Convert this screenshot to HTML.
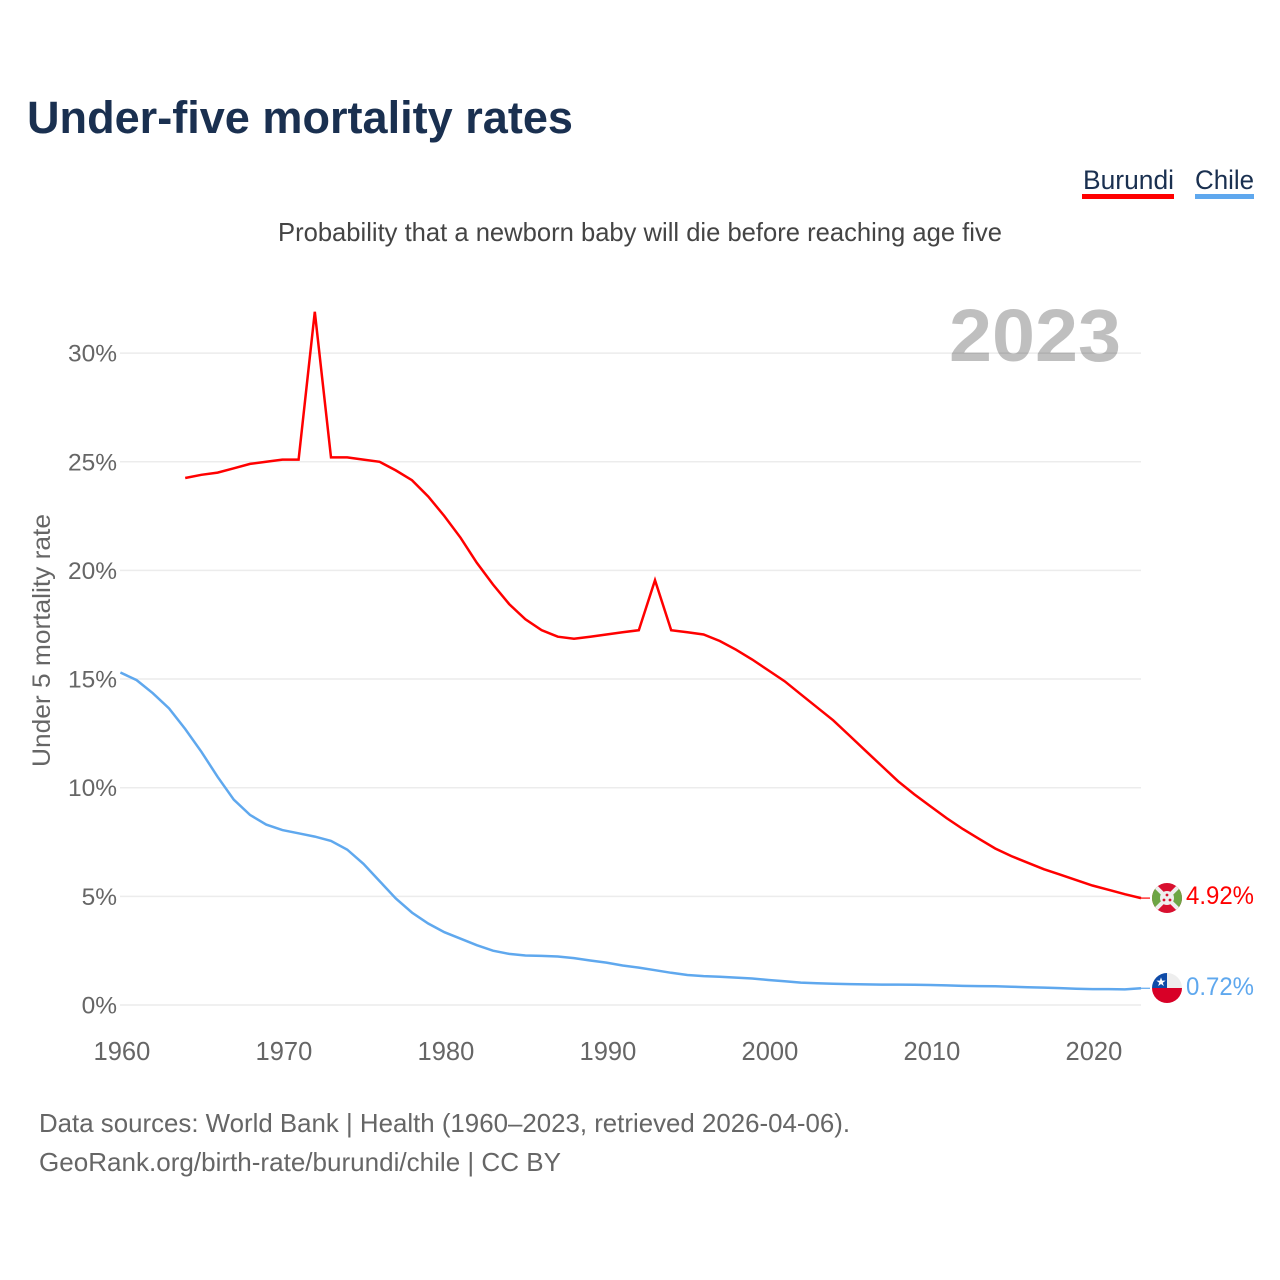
<!DOCTYPE html>
<html lang="en">
<head>
<meta charset="utf-8">
<title>Under-five mortality rates</title>
<style>
html,body{margin:0;padding:0;background:#fff;width:1280px;height:1280px;overflow:hidden}
svg{display:block}
text{font-family:"Liberation Sans",sans-serif}
</style>
</head>
<body>
<svg id="chart" xmlns="http://www.w3.org/2000/svg" width="1280" height="1280" viewBox="0 0 1280 1280">
  <defs>
    <clipPath id="flag-clip-a"><circle cx="1167" cy="898" r="15"/></clipPath>
    <clipPath id="flag-clip-b"><circle cx="1167" cy="988" r="15"/></clipPath>
  </defs>
  <text x="27" y="133" font-size="45" font-weight="700" fill="#1a3050" textLength="546" lengthAdjust="spacingAndGlyphs">Under-five mortality rates</text>
  <text x="278" y="241" font-size="26" fill="#444" textLength="724" lengthAdjust="spacingAndGlyphs">Probability that a newborn baby will die before reaching age five</text>

  <g>
    <g>
      <text x="1083" y="189" font-size="27" fill="#1a3050" textLength="91" lengthAdjust="spacingAndGlyphs">Burundi</text>
      <rect x="1082" y="194" width="92" height="5" fill="#ff0000"/>
    </g>
    <g>
      <text x="1195" y="189" font-size="27" fill="#1a3050" textLength="59" lengthAdjust="spacingAndGlyphs">Chile</text>
      <rect x="1195" y="194" width="59" height="5" fill="#5fa8ee"/>
    </g>
  </g>

  <g id="grid"></g>
  <text x="949" y="361" font-size="74" font-weight="700" fill="#000" fill-opacity="0.25" textLength="172" lengthAdjust="spacingAndGlyphs">2023</text>
  <g id="yticks"></g>
  <g id="xticks"></g>
  <text transform="translate(50,767) rotate(-90)" x="0" y="0" font-size="25" fill="#666" textLength="253" lengthAdjust="spacingAndGlyphs">Under 5 mortality rate</text>

  <g id="series"></g>

  <g clip-path="url(#flag-clip-a)">
    <rect x="1152" y="883" width="30" height="30" fill="#d8102f"/>
    <polygon points="1152,883 1167,898 1152,913" fill="#6da544"/>
    <polygon points="1182,883 1167,898 1182,913" fill="#6da544"/>
    <line x1="1152" y1="883" x2="1182" y2="913" stroke="#eee" stroke-width="4"/>
    <line x1="1182" y1="883" x2="1152" y2="913" stroke="#eee" stroke-width="4"/>
    <circle cx="1167" cy="898" r="7" fill="#eee"/>
    <circle cx="1167" cy="895" r="1.4" fill="#d8102f"/>
    <circle cx="1164" cy="900" r="1.4" fill="#d8102f"/>
    <circle cx="1170" cy="900" r="1.4" fill="#d8102f"/>
  </g>
  <g clip-path="url(#flag-clip-b)">
    <rect x="1152" y="973" width="30" height="15" fill="#eeeeee"/>
    <rect x="1152" y="988" width="30" height="15" fill="#d80027"/>
    <rect x="1152" y="973" width="15" height="15" fill="#0f4ba8"/>
    <text x="1161" y="986" font-size="12" text-anchor="middle" fill="#fff" style="font-family:'DejaVu Sans',sans-serif">★</text>
  </g>

  <text x="1186" y="904" font-size="25" fill="#ff0000" textLength="68" lengthAdjust="spacingAndGlyphs">4.92%</text>
  <text x="1186" y="995" font-size="25" fill="#5fa8ee" textLength="68" lengthAdjust="spacingAndGlyphs">0.72%</text>

  <text x="39" y="1132" font-size="26" fill="#666" textLength="811" lengthAdjust="spacingAndGlyphs">Data sources: World Bank | Health (1960–2023, retrieved 2026-04-06).</text>
  <text x="39" y="1171" font-size="26" fill="#666" textLength="522" lengthAdjust="spacingAndGlyphs">GeoRank.org/birth-rate/burundi/chile | CC BY</text>
</svg>
<script>
const burundiStartYear = 1964;
const burundiValues = [24.25,24.4,24.5,24.7,24.9,25.0,25.1,25.1,31.9,25.2,25.2,25.1,25.0,24.6,24.15,23.4,22.5,21.5,20.35,19.35,18.45,17.75,17.25,16.95,16.85,16.95,17.05,17.15,17.25,19.55,17.25,17.15,17.05,16.75,16.35,15.9,15.4,14.9,14.3,13.7,13.1,12.4,11.7,11.0,10.3,9.7,9.15,8.6,8.1,7.65,7.2,6.85,6.55,6.25,6.0,5.75,5.5,5.3,5.1,4.92];
const chileStartYear = 1960;
const chileValues = [15.3,14.95,14.35,13.65,12.7,11.65,10.5,9.45,8.75,8.3,8.05,7.9,7.75,7.55,7.15,6.5,5.7,4.9,4.25,3.75,3.35,3.05,2.75,2.5,2.35,2.28,2.26,2.23,2.16,2.05,1.95,1.82,1.72,1.6,1.48,1.38,1.33,1.3,1.26,1.22,1.15,1.09,1.03,1.0,0.98,0.96,0.95,0.94,0.94,0.93,0.92,0.9,0.88,0.87,0.86,0.84,0.82,0.8,0.78,0.75,0.73,0.73,0.72,0.77];
const yTickValues = [0,5,10,15,20,25,30];
const xTickYears = [1960,1970,1980,1990,2000,2010,2020];

const SVG_NS = 'http://www.w3.org/2000/svg';
function xScale(year){ return 120.4 + (year - 1960) * 16.2; }
function yScale(v){ return 1005 - v * 21.73; }

const grid = document.getElementById('grid');
const yticks = document.getElementById('yticks');
const xticks = document.getElementById('xticks');
const series = document.getElementById('series');

yTickValues.forEach(function(v){
  const line = document.createElementNS(SVG_NS, 'line');
  
  
  line.setAttribute('x1', 120);
  line.setAttribute('x2', 1141);
  line.setAttribute('y1', yScale(v));
  line.setAttribute('y2', yScale(v));
  line.setAttribute('stroke', '#ececec');
  line.setAttribute('stroke-width', '1.5');
  grid.appendChild(line);

  const label = document.createElementNS(SVG_NS, 'text');
  
  
  label.setAttribute('x', 117);
  label.setAttribute('y', yScale(v) + 8.5);
  label.setAttribute('text-anchor', 'end');
  label.setAttribute('font-size', '24.5');
  label.setAttribute('fill', '#666');
  label.textContent = v + '%';
  yticks.appendChild(label);
});

xTickYears.forEach(function(year){
  const label = document.createElementNS(SVG_NS, 'text');
  
  
  label.setAttribute('x', xScale(year) + 1.5);
  label.setAttribute('y', 1060);
  label.setAttribute('text-anchor', 'middle');
  label.setAttribute('font-size', '25.5');
  label.setAttribute('fill', '#666');
  label.textContent = String(year);
  xticks.appendChild(label);
});

function pointsFor(values, startYear){
  return values.map(function(v, i){
    return xScale(startYear + i).toFixed(1) + ',' + yScale(v).toFixed(1);
  }).join(' ');
}

function stubFor(values){
  const endY = yScale(values[values.length - 1]);
  return { y: endY };
}

const burundiLine = document.createElementNS(SVG_NS, 'polyline');


burundiLine.setAttribute('points', pointsFor(burundiValues, burundiStartYear));
burundiLine.setAttribute('fill', 'none');
burundiLine.setAttribute('stroke', '#ff0000');
burundiLine.setAttribute('stroke-width', '2.5');
series.appendChild(burundiLine);

const chileLine = document.createElementNS(SVG_NS, 'polyline');


chileLine.setAttribute('points', pointsFor(chileValues, chileStartYear));
chileLine.setAttribute('fill', 'none');
chileLine.setAttribute('stroke', '#5fa8ee');
chileLine.setAttribute('stroke-width', '2.5');
series.appendChild(chileLine);

const burundiStub = document.createElementNS(SVG_NS, 'line');


burundiStub.setAttribute('x1', xScale(2023));
burundiStub.setAttribute('x2', 1150);
burundiStub.setAttribute('y1', stubFor(burundiValues).y);
burundiStub.setAttribute('y2', stubFor(burundiValues).y);
burundiStub.setAttribute('stroke', '#ff0000');
burundiStub.setAttribute('stroke-width', '1.2');
series.appendChild(burundiStub);

const chileStub = document.createElementNS(SVG_NS, 'line');


chileStub.setAttribute('x1', xScale(2023));
chileStub.setAttribute('x2', 1150);
chileStub.setAttribute('y1', stubFor(chileValues).y);
chileStub.setAttribute('y2', stubFor(chileValues).y);
chileStub.setAttribute('stroke', '#5fa8ee');
chileStub.setAttribute('stroke-width', '1.2');
series.appendChild(chileStub);
</script>
</body>
</html>
